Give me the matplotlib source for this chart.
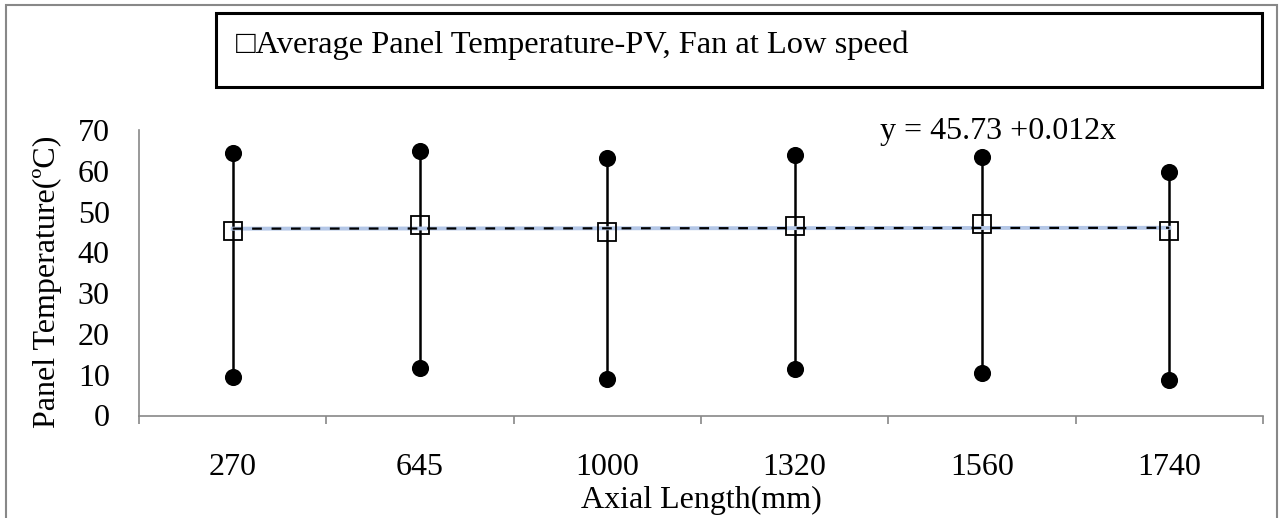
import matplotlib
matplotlib.use("Agg")
import matplotlib.pyplot as plt
from matplotlib.patches import Rectangle
import numpy as np

categories = ['270', '645', '1000', '1320', '1560', '1740']
avg_temp = [45.3, 46.7, 45.0, 46.4, 46.9, 45.2]
max_temp = [64.4, 64.9, 63.1, 63.9, 63.4, 59.8]
min_temp = [9.4, 11.6, 9.0, 11.5, 10.4, 8.6]
y_ticks = [0, 10, 20, 30, 40, 50, 60, 70]
legend_label = "\u25a1Average Panel Temperature-PV, Fan at Low speed"
equation = "y = 45.73 +0.012x"

plt.rcParams['font.family'] = ['Liberation Serif', 'DejaVu Serif']
plt.rcParams['lines.scale_dashes'] = False

FS = 23
W, H = 1282, 518
fig = plt.figure(figsize=(W / 100, H / 100), dpi=100)
ax = fig.add_axes([139 / W, (H - 415.5) / H, (1263 - 139) / W, (415.5 - 130) / H])

x = np.arange(len(categories))

# high-low lines with dot ends
ax.vlines(x, min_temp, max_temp, color='black', lw=1.8, zorder=2)
ax.plot(x, max_temp, 'o', color='black', ms=11.3, zorder=3)
ax.plot(x, min_temp, 'o', color='black', ms=11.3, zorder=3)

# trend line (linear fit over category index)
coef = np.polyfit(x + 1, avg_temp, 1)
xt = np.array([x[0], x[-1]])
yt = np.polyval(coef, xt + 1)
ax.plot(xt, yt, color='#b4c7e7', lw=2.8, zorder=4)
ax.plot(xt, yt, color='black', lw=1.6, dashes=(7, 7), zorder=5)

# averages
ax.plot(x, avg_temp, 's', mfc='none', mec='black', mew=1.3, ms=13.5, zorder=6)

ax.set_xlim(-0.5, len(categories) - 0.5)
ax.set_ylim(0, 70)
ax.set_yticks(y_ticks)
ax.set_xticks(x)
ax.set_xticklabels(categories)
ax.set_xticks(np.arange(-0.5, len(categories)), minor=True)
ax.tick_params(axis='x', which='major', length=0, pad=27, labelsize=FS)
ax.tick_params(axis='x', which='minor', length=6, width=1.2, color='#888888', direction='out')
ax.tick_params(axis='y', length=0, pad=21, labelsize=FS)

for s in ['top', 'right']:
    ax.spines[s].set_visible(False)
for s in ['left', 'bottom']:
    ax.spines[s].set_color('#888888')
    ax.spines[s].set_linewidth(1.2)

fig.text(47 / W, (H - 282) / H, "Panel Temperature(\u00baC)", rotation=90,
         ha='center', va='center', fontsize=FS)
fig.text(701 / W, (H - 500) / H, "Axial Length(mm)", ha='center', va='center', fontsize=FS)
fig.text(880 / W, (H - 139) / H, equation, ha='left', va='baseline', fontsize=FS)

# legend box
fig.patches.append(Rectangle((216 / W, (H - 87) / H), (1262 - 216) / W, (87 - 13) / H,
                             transform=fig.transFigure, fill=False, ec='black', lw=2.2))
fig.text(236 / W, (H - 53) / H, legend_label, ha='left', va='baseline', fontsize=23.4)

# outer chart border
fig.patches.append(Rectangle((6 / W, -0.1), (1277 - 6) / W, 1.1 - 5 / H,
                             transform=fig.transFigure, fill=False, ec='#888888', lw=1.5,
                             clip_on=False))

fig.savefig("out.png", dpi=100)
